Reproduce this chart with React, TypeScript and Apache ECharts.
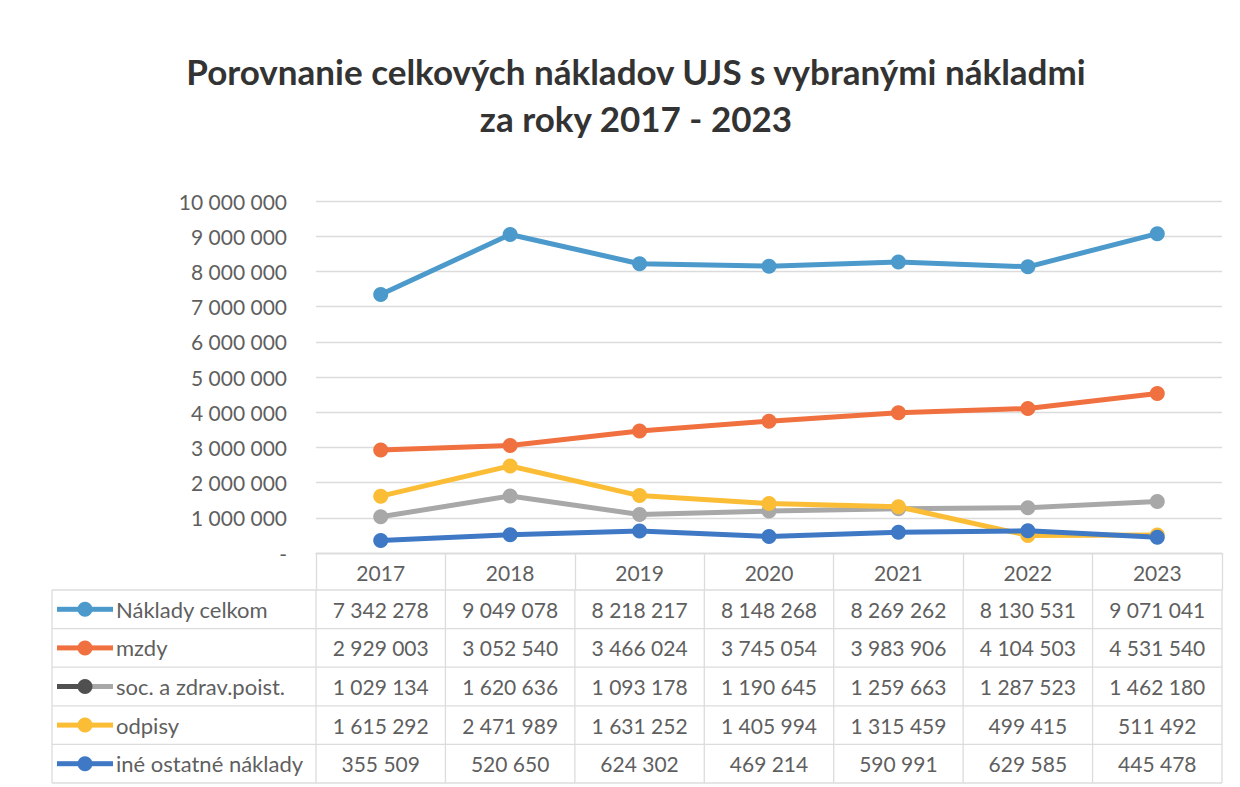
import React, { useEffect, useRef } from "react";
import * as echarts from "echarts";

const years = ["2017", "2018", "2019", "2020", "2021", "2022", "2023"];
const seriesNames = ["Náklady celkom", "mzdy", "soc. a zdrav.poist.", "odpisy", "iné ostatné náklady"];
const nakladyCelkom = [7342278, 9049078, 8218217, 8148268, 8269262, 8130531, 9071041];
const mzdy = [2929003, 3052540, 3466024, 3745054, 3983906, 4104503, 4531540];
const socZdrav = [1029134, 1620636, 1093178, 1190645, 1259663, 1287523, 1462180];
const odpisy = [1615292, 2471989, 1631252, 1405994, 1315459, 499415, 511492];
const ineOstatne = [355509, 520650, 624302, 469214, 590991, 629585, 445478];
const allData = [nakladyCelkom, mzdy, socZdrav, odpisy, ineOstatne];
const colors = ["#4b9acb", "#f0703f", "#a8a8a8", "#fbbd35", "#3f78c4"];
const yMax = 10000000;
const yInterval = 1000000;

const FONT = "Lato";
const TEXT_COLOR = "#5f5f5f";
const LINE_COLOR = "#dcdcdc";

const fmt = (v: number) => String(v).replace(/\B(?=(\d{3})+(?!\d))/g, " ");

export default function App() {
  const ref = useRef<HTMLDivElement>(null);
  useEffect(() => {
    if (!ref.current) return;
    const chart = echarts.init(ref.current, null, { renderer: "svg" });

    const W = 1240;
    const gridLeft = 316;
    const gridRight = 18;
    const gridTop = 201;
    const gridBottom = 234;
    const axisY = 787 - gridBottom;
    const headerH = 37;
    const rowH = 38.6;
    const tableLeft = 52;
    const plotW = W - gridLeft - gridRight;
    const colW = plotW / years.length;
    const tableTop = axisY + headerH;

    const graphics: any[] = [];
    for (let i = 0; i <= seriesNames.length; i++) {
      const y = tableTop + i * rowH;
      graphics.push({
        type: "line",
        shape: { x1: tableLeft, y1: y, x2: W - gridRight, y2: y },
        style: { stroke: LINE_COLOR, lineWidth: 1.3 },
        silent: true,
      });
    }
    const vx = [tableLeft];
    for (let j = 0; j <= years.length; j++) vx.push(gridLeft + j * colW);
    vx.forEach((x) => {
      graphics.push({
        type: "line",
        shape: { x1: x, y1: tableTop, x2: x, y2: tableTop + seriesNames.length * rowH },
        style: { stroke: LINE_COLOR, lineWidth: 1.3 },
        silent: true,
      });
    });
    seriesNames.forEach((name, i) => {
      const cy = tableTop + i * rowH + rowH / 2;
      const c = colors[i];
      const leftC = i === 2 ? "#505050" : c;
      graphics.push({
        type: "line",
        shape: { x1: 57, y1: cy, x2: 85, y2: cy },
        style: { stroke: leftC, lineWidth: 5 },
        silent: true,
      });
      graphics.push({
        type: "line",
        shape: { x1: 85, y1: cy, x2: 113, y2: cy },
        style: { stroke: c, lineWidth: 5 },
        silent: true,
      });
      graphics.push({
        type: "circle",
        shape: { cx: 85, cy: cy, r: 7.5 },
        style: { fill: leftC },
        silent: true,
      });
      graphics.push({
        type: "text",
        x: 116,
        y: cy,
        style: {
          text: name,
          font: `22px ${FONT}`,
          fill: TEXT_COLOR,
          textVerticalAlign: "middle",
          textAlign: "left",
        },
        silent: true,
      });
      allData[i].forEach((v, j) => {
        graphics.push({
          type: "text",
          x: gridLeft + (j + 0.5) * colW,
          y: cy,
          style: {
            text: fmt(v),
            font: `21px ${FONT}`,
            fill: TEXT_COLOR,
            textVerticalAlign: "middle",
            textAlign: "center",
          },
          silent: true,
        });
      });
    });

    chart.setOption({
      animation: false,
      backgroundColor: "#ffffff",
      title: {
        text: "Porovnanie celkových nákladov UJS s vybranými nákladmi\nza roky 2017 - 2023",
        left: 631,
        top: 42,
        textAlign: "center",
        textStyle: {
          fontFamily: FONT,
          fontWeight: "bold",
          fontSize: 35,
          color: "#333333",
          lineHeight: 47,
        },
      },
      grid: { left: gridLeft, right: gridRight, top: gridTop, bottom: gridBottom, containLabel: false },
      xAxis: {
        type: "category",
        data: years,
        boundaryGap: true,
        axisLine: { show: true, lineStyle: { color: LINE_COLOR, width: 1.3 } },
        axisTick: { show: true, length: headerH, lineStyle: { color: LINE_COLOR, width: 1.3 } },
        axisLabel: { color: TEXT_COLOR, fontFamily: FONT, fontSize: 21, margin: 9 },
      },
      yAxis: {
        type: "value",
        min: 0,
        max: yMax,
        interval: yInterval,
        axisLine: { show: false },
        axisTick: { show: false },
        splitLine: { lineStyle: { color: LINE_COLOR, width: 1.3 } },
        axisLabel: {
          color: TEXT_COLOR,
          fontFamily: FONT,
          fontSize: 21,
          margin: 29,
          formatter: (v: number) => (v === 0 ? "-" : fmt(v)),
        },
      },
      series: seriesNames.map((name, i) => ({
        name,
        type: "line",
        data: allData[i],
        symbol: "circle",
        symbolSize: 15,
        showSymbol: true,
        lineStyle: { color: colors[i], width: 5 },
        itemStyle: { color: colors[i] },
      })),
      graphic: graphics,
    });
    return () => chart.dispose();
  }, []);
  return (
    <div
      ref={ref}
      style={{ position: "absolute", left: 0, top: 0, width: 1240, height: 787 }}
    />
  );
}
